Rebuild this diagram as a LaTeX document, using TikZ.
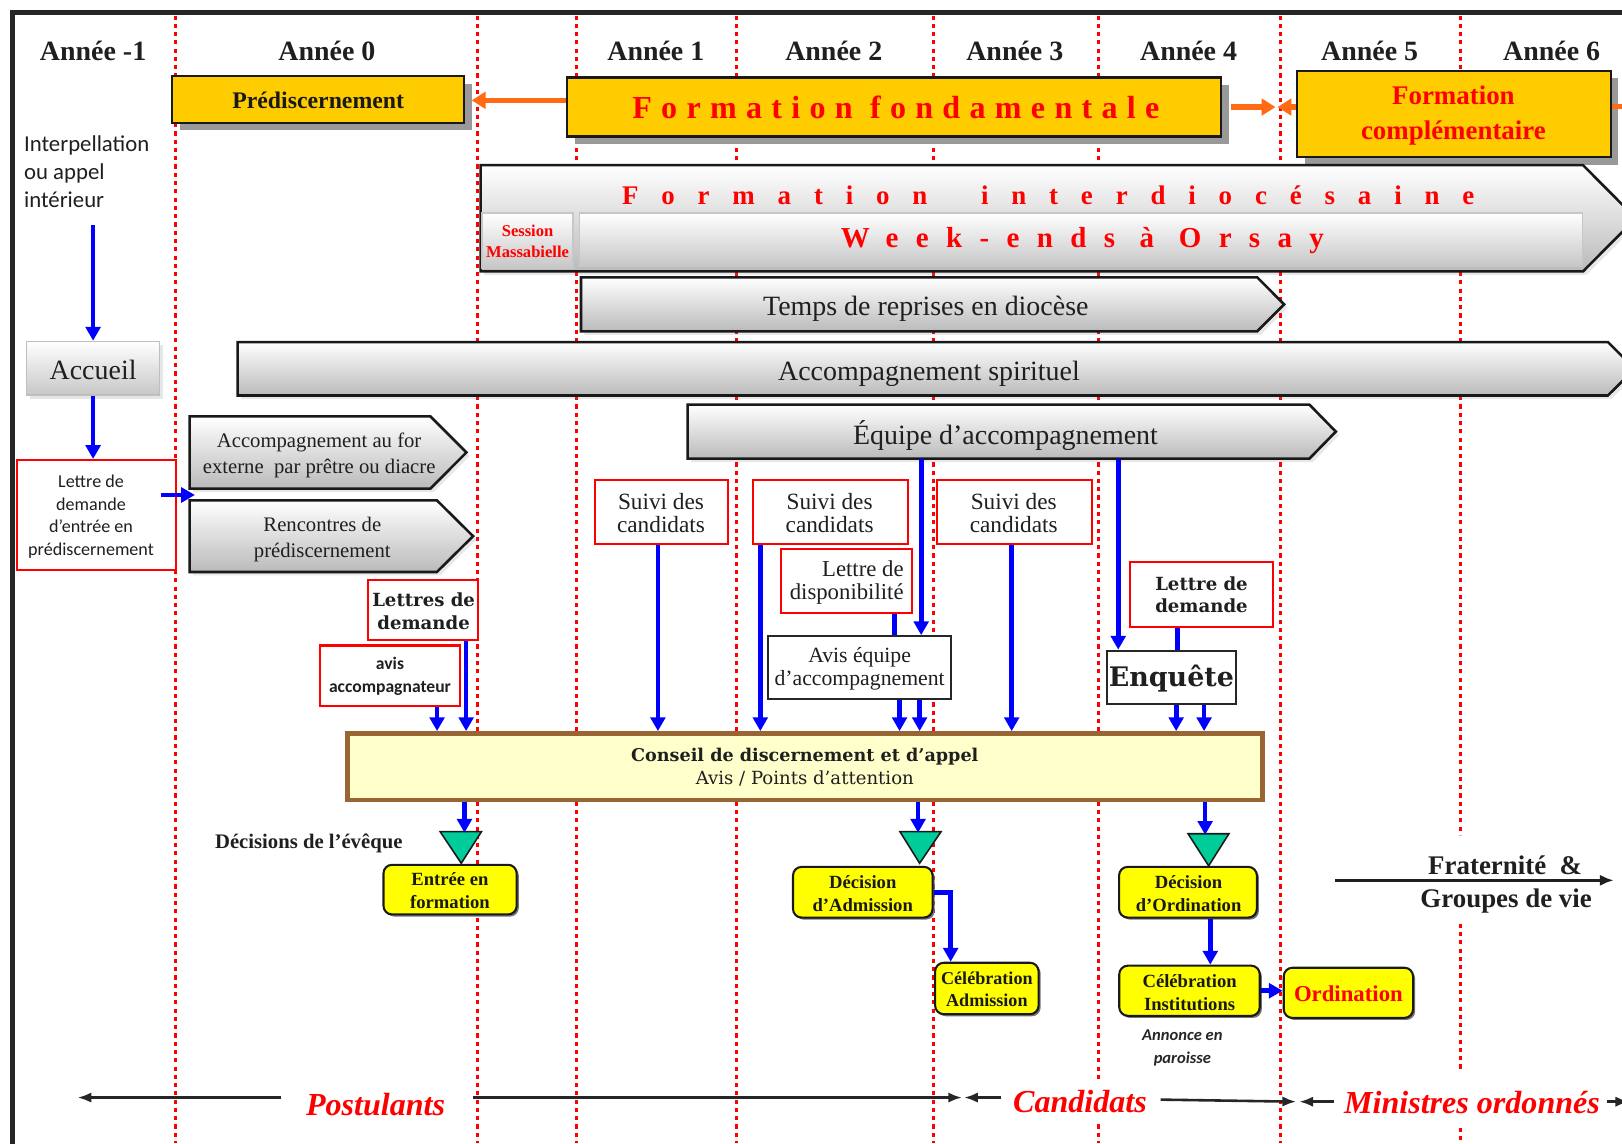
\documentclass[tikz,border=0pt]{standalone}
\usepackage{fontspec}
\setmainfont{Liberation Serif}
\newfontfamily\calf{Carlito}
\newfontfamily\dvs{DejaVu Serif}
\newfontfamily\lsff[LetterSpace=29]{Liberation Serif}
\newfontfamily\lsfi[LetterSpace=85]{Liberation Serif}
\newfontfamily\lswe[LetterSpace=60]{Liberation Serif}
\usetikzlibrary{arrows.meta,fit,shadows}
\newcommand\fz[2]{\fontsize{#1}{#2}\selectfont}
\definecolor{gold}{HTML}{FFCC00}
\definecolor{ora}{HTML}{FF6A13}
\definecolor{conf}{HTML}{FFFFCC}
\definecolor{brn}{HTML}{996633}
\definecolor{grn}{HTML}{00CC99}
\definecolor{yel}{HTML}{FFFF00}
\definecolor{shd}{HTML}{999999}
\newcommand\arrowshape[2]{\path[grayshape] (#1.north west) -- (#1.north east) -- ([xshift=#2]#1.east) -- (#1.south east) -- (#1.south west) -- cycle;}
\tikzset{
 dotline/.style={draw=red, line width=1.8pt, dash pattern=on 2.4pt off 2.4pt},
 hdr/.style={font=\bfseries\fz{16.2}{19}, text=black!88},
 goldbox/.style={draw=black!90, line width=1.3pt, fill=gold, drop shadow={shadow xshift=4.5pt, shadow yshift=-4.5pt, fill=shd, opacity=1}},
 oarrow/.style={draw=ora, line width=3pt, -{Triangle[length=8pt,width=9.5pt]}},
 barrow/.style={draw=blue, line width=2.7pt, -{Triangle[length=8pt,width=8.5pt]}},
 bline/.style={draw=blue, line width=2.7pt},
 grayshape/.style={draw=black!90, line width=1.5pt, top color=white, bottom color=black!27, drop shadow={shadow xshift=2pt, shadow yshift=-2pt, opacity=.18}},
 bevel/.style={draw=black!22, line width=0.8pt, top color=white, bottom color=black!22},
 glabel/.style={font=\fz{16.2}{19}, text=black!88},
 glabel2/.style={font=\fz{12}{15}, text=black!88, align=center},
 redbox/.style={draw=red, line width=1.2pt, fill=white},
 blkbox/.style={draw=black!85, line width=1.2pt, fill=white},
 ybox/.style={draw=black!90, line width=1.2pt, fill=yel, rounded corners=5pt, drop shadow={shadow xshift=1.2pt, shadow yshift=-1.2pt, fill=black!55, opacity=1}},
 ytxt/.style={font=\bfseries\fz{10.8}{13}, align=center, text=black!90},
 tri/.style={draw=black!90, line width=0.9pt, fill=grn},
 karrow/.style={draw=black!85, line width=1.5pt, -{Latex[length=8pt,width=6pt]}},
 btxt/.style={font=\bfseries\itshape\fz{18.6}{20}, text=red, fill=white, inner xsep=2pt, inner ysep=6pt},
 ctr/.style={align=center, text=black!88},
}
\begin{document}
\begin{tikzpicture}[x=0.6pt,y=-0.6pt, every node/.style={inner sep=0pt}]
\useasboundingbox (0,0) rectangle (1568,1105);
% frame
\draw[line width=3pt, black!85] (10,12) -- (1570,12);
\draw[line width=3pt, black!85] (12,10) -- (12,1110);
% dotted year separators
\foreach \x in {170,462,557,712,902,1062,1238} \draw[dotline] (\x,15) -- (\x,1105);
\draw[dotline] (1412,15) -- (1412,807);
\draw[dotline] (1412,893) -- (1412,1036);
\draw[dotline] (1412,1090) -- (1412,1105);
% headers
\foreach \x/\t [count=\i] in {90/{Année -1},316/{Année 0},634/{Année 1},806/{Année 2},981/{Année 3},1149/{Année 4},1324/{Année 5},1500/{Année 6}}
  \node[hdr] (hdr\i) at (\x,49) {\t};
% gold boxes
\node[goldbox, fit={(166.5,73.5)(448.8,118.6)}] (pred) {};
\node[font=\bfseries\fz{13.8}{16}, text=black!90] (predT) at (307.6,97) {Prédiscernement};
\node[goldbox, fit={(548,75)(1180.6,132)}] (ff) {};
\node[font={\lsff\bfseries\fz{18.6}{22}}, text=red] (ffT) at (866,104) {Formation fondamentale};
\node[goldbox, fit={(1254,68.3)(1557,152)}] (fc) {};
\node[font=\bfseries\fz{15.6}{20.4}, text=red, align=center] (fcT) at (1405,112) {Formation\\complémentaire};
% orange arrows
\coordinate (oL) at (456,97);
\draw[oarrow] (ff.west |- oL) -- (oL);
\coordinate (oR1) at (1233,103.5);
\draw[oarrow] ([xshift=4.8pt]ff.east) -- (oR1);
\coordinate (oR2) at (1235,103.5);
\draw[oarrow] (fc.west |- oR2) -- (oR2);
\coordinate (oR3) at (1580,103);
\draw[draw=ora, line width=3pt] (fc.east |- oR3) -- (oR3);
% formation interdiocesaine
\node[fit={(465,160)(1530,262)}] (fi) {};
\arrowshape{fi}{30.6pt}
\node[bevel, fit={(466,206)(554,259)}] (sess) {};
\node[font=\bfseries\fz{9.6}{12}, text=red, align=center] (sessT) at (510,233) {Session\\Massabielle};
\node[bevel, fit={(560,206)(1530,257)}] (we) {};
\node[anchor=west, font={\lsfi\bfseries\fz{15.6}{18}}, text=red] (fiT1) at (601,189) {Formation};
\node[anchor=west, font={\lsfi\bfseries\fz{15.6}{18}}, text=red] (fiT2) at (948,189) {interdiocésaine};
\node[anchor=west, font={\lswe\bfseries\fz{16.8}{20}}, text=red] (weT) at (812.6,233) {Week-ends à Orsay};
% grey arrows
\node[fit={(562,268.4)(1215,320)}] (temps) {};
\arrowshape{temps}{15.6pt}
\node[glabel] (tempsT) at (895,298) {Temps de reprises en diocèse};
\node[fit={(230,331)(1554,382)}] (accsp) {};
\arrowshape{accsp}{15.6pt}
\node[glabel] (accspT) at (898,361) {Accompagnement spirituel};
\node[fit={(665,391.5)(1265.5,443)}] (equipe) {};
\arrowshape{equipe}{15.3pt}
\node[glabel] (equipeT) at (972,421) {Équipe d’accompagnement};
\node[fit={(183.7,402.8)(415.7,472)}] (accfor) {};
\arrowshape{accfor}{20.9pt}
\node[glabel2] (accforT) at (308.5,440) {Accompagnement au for\\externe\ \ par prêtre ou diacre};
\node[fit={(183.7,484)(422,552.6)}] (renc) {};
\arrowshape{renc}{21pt}
\node[glabel2] (rencT) at (311.6,521.5) {Rencontres de\\prédiscernement};
% left column
\node[bevel, draw=black!25, drop shadow={shadow xshift=2pt, shadow yshift=-2pt, opacity=.2}, fit={(25.8,330)(154,382)}] (acc) {};
\node[font=\fz{16.2}{19}, text=black!88] (accT) at (90,358) {Accueil};
\node[anchor=base west, font=\calf\fz{13.2}{16}, text=black!88] (interp1) at (23,146.6) {Interpellation};
\node[anchor=base west, font=\calf\fz{13.2}{16}, text=black!88] (interp2) at (23,174) {ou appel};
\node[anchor=base west, font=\calf\fz{13.2}{16}, text=black!88] (interp3) at (23,200.4) {intérieur};
\node[redbox, fit={(16,444.7)(170,551)}] (lettre) {};
\node[ctr, font=\calf\fz{10.5}{13.2}] (lettreT) at (88,499.5) {Lettre de\\demande\\d’entrée en\\prédiscernement};
\coordinate (iA) at (90,217.5);
\draw[barrow] (iA) -- (acc.north -| iA);
\draw[barrow] (acc.south -| iA) -- (lettre.north -| iA);
\coordinate (lA) at (155.6,478.5);
\coordinate (lB) at (188.5,478.5);
\draw[barrow] (lA) -- (lB);
% middle boxes
\node[redbox, fit={(356,561)(462.5,619)}] (lettres) {};
\node[ctr, font=\dvs\bfseries\fz{10.5}{13.2}] (lettresT) at (409.5,591) {Lettres de\\demande};
\node[redbox, fit={(309,624)(444.7,682.5)}] (avis) {};
\node[ctr, font=\calf\bfseries\fz{10.2}{13.2}] (avisT) at (377,654) {avis\\accompagnateur};
\node[redbox, fit={(575,464)(703.5,526)}] (s1) {};
\node[ctr, font=\fz{13.5}{13.2}] (s1T) at (639,496) {Suivi des\\candidats};
\node[redbox, fit={(728,464)(878,526)}] (s2) {};
\node[ctr, font=\fz{13.5}{13.2}] (s2T) at (802,496) {Suivi des\\candidats};
\node[redbox, fit={(905.5,464)(1055.7,526)}] (s3) {};
\node[ctr, font=\fz{13.5}{13.2}] (s3T) at (980,496) {Suivi des\\candidats};
\node[redbox, fit={(755,531)(882,593)}] (dispo) {};
\node[align=right, text=black!88, font=\fz{13.2}{13.2}] (dispoT) at (818.5,563) {Lettre de\\disponibilité};
\node[blkbox, fit={(742.5,615)(919,676)}] (aveq) {};
\node[ctr, font=\fz{12.6}{13.8}] (aveqT) at (831,646.5) {Avis équipe\\d’accompagnement};
\node[blkbox, fit={(1069.7,629)(1195,680.6)}] (enq) {};
\node[font=\dvs\bfseries\fz{15.6}{18}, text=black!88] (enqT) at (1132.4,656) {Enquête};
\node[redbox, fit={(1092,543.6)(1231,606)}] (lettreD) {};
\node[ctr, font=\dvs\bfseries\fz{10.5}{13.2}] (lettreDT) at (1161.5,575) {Lettre de\\demande};
% conseil
\node[draw=brn, line width=2.7pt, fill=conf, fit={(336,709)(1220.6,773.4)}] (conseil) {};
\node[font=\dvs\bfseries\fz{10.2}{12}, text=black!88] (conseilT) at (778,731) {Conseil de discernement et d’appel};
\node[font=\dvs\fz{10.5}{12}, text=black!88] (conseilA) at (778,753) {Avis / Points d’attention};
% x positions of the blue connectors
\coordinate (xa) at (422.5,0); \coordinate (xb) at (450.6,0);
\coordinate (xc) at (636,0);   \coordinate (xd) at (735,0);
\coordinate (xe) at (978,0);   \coordinate (xf) at (890.5,0);
\coordinate (xg) at (864.5,0); \coordinate (xh) at (869.6,0);
\coordinate (xi) at (889,0);   \coordinate (xj) at (1081,0);
\coordinate (xk) at (1138,0);  \coordinate (xl) at (1137,0);
\coordinate (xm) at (1164,0);
\draw[barrow] (avis.south -| xa) -- (conseil.north -| xa);
\draw[barrow] (lettres.south -| xb) -- (conseil.north -| xb);
\draw[barrow] (s1.south -| xc) -- (conseil.north -| xc);
\draw[barrow] (s2.south -| xd) -- (conseil.north -| xd);
\draw[barrow] (s3.south -| xe) -- (conseil.north -| xe);
\draw[barrow] (equipe.south -| xf) -- (aveq.north -| xf);
\draw[bline] (dispo.south -| xg) -- (aveq.north -| xg);
\draw[barrow] (aveq.south -| xh) -- (conseil.north -| xh);
\draw[barrow] (aveq.south -| xi) -- (conseil.north -| xi);
\draw[barrow] (equipe.south -| xj) -- (enq.north -| xj);
\draw[bline] (lettreD.south -| xk) -- (enq.north -| xk);
\draw[barrow] (enq.south -| xl) -- (conseil.north -| xl);
\draw[barrow] (enq.south -| xm) -- (conseil.north -| xm);
% decisions
\draw[tri] (425.5,804) -- (465.4,804) -- (445.9,834.5) -- cycle;
\coordinate (t1) at (449,805);
\draw[barrow] (conseil.south -| t1) -- (t1);
\node[ybox, fit={(370.7,836)(499.5,884)}] (entree) {};
\node[ytxt] (entreeT) at (435,861) {Entrée en\\formation};
\node[font=\bfseries\fz{12}{14}, text=black!88] (decev) at (298.5,815) {Décisions de l’évêque};
\draw[tri] (870,804) -- (909.7,804) -- (889,834.5) -- cycle;
\coordinate (t2) at (887.5,805);
\draw[barrow] (conseil.south -| t2) -- (t2);
\node[ybox, fit={(766.6,838)(901.5,887)}] (decA) {};
\node[ytxt] (decAT) at (834,864) {Décision\\d’Admission};
\node[ybox, fit={(904,930.7)(1004,980.4)}] (celA) {};
\node[ytxt, font=\bfseries\fz{10.5}{13}] (celAT) at (954,956.5) {Célébration\\Admission};
\coordinate (xn) at (919,0);
\draw[barrow] (decA.east) -| (celA.north -| xn);
\draw[tri] (1148.5,806) -- (1188,806) -- (1168.4,837) -- cycle;
\coordinate (t3) at (1165,807);
\draw[barrow] (conseil.south -| t3) -- (t3);
\node[ybox, fit={(1081.8,838)(1215,887)}] (decO) {};
\node[ytxt] (decOT) at (1149,864) {Décision\\d’Ordination};
\node[ybox, fit={(1082,933.5)(1217.8,982)}] (celI) {};
\node[ytxt] (celIT) at (1150,959.5) {Célébration\\Institutions};
\coordinate (xo) at (1170,0);
\draw[barrow] (decO.south -| xo) -- (celI.north -| xo);
\node[ybox, fit={(1241,935.5)(1366,984)}] (ordi) {};
\node[font=\bfseries\fz{13.2}{15}, text=red] (ordiT) at (1303.5,961) {Ordination};
\draw[barrow] (celI.east) -- (celI.east -| ordi.west);
\node[font=\calf\bfseries\itshape\fz{9.6}{13.2}, align=center, text=black!85] (annonce) at (1143,1013) {Annonce en\\paroisse};
% fraternite
\node[font=\bfseries\fz{15.6}{18}, text=black!88] (frat) at (1455,836) {Fraternité\ \ \&};
\node[font=\bfseries\fz{15.6}{18}, text=black!88] (grp) at (1456,871) {Groupes de vie};
\coordinate (fA) at (1290.6,851); \coordinate (fB) at (1560,851);
\draw[draw=black!88, line width=1.8pt, -{Latex[length=8pt,width=6.5pt]}] (fA) -- (fB);
% bottom axis
\node[btxt] (post) at (363,1068) {Postulants};
\node[btxt] (cand) at (1044,1065) {Candidats};
\node[btxt] (mini) at (1423,1066) {Ministres ordonnés};
\coordinate (b0) at (75,1061);   \coordinate (b1) at (272,1061);
\coordinate (b2) at (457,1061);  \coordinate (b3) at (930,1061);
\coordinate (b4) at (968,1061);  \coordinate (b5) at (932,1061);
\coordinate (b6) at (1122,1063); \coordinate (b7) at (1253,1065);
\coordinate (b8) at (1290,1065); \coordinate (b9) at (1256,1065);
\coordinate (b10) at (1553,1065); \coordinate (b11) at (1575,1065);
\draw[karrow] (b1) -- (b0);
\draw[karrow] (b2) -- (b3);
\draw[karrow] (b4) -- (b5);
\draw[karrow] (b6) -- (b7);
\draw[karrow] (b8) -- (b9);
\draw[karrow] (b10) -- (b11);
\end{tikzpicture}
\end{document}
